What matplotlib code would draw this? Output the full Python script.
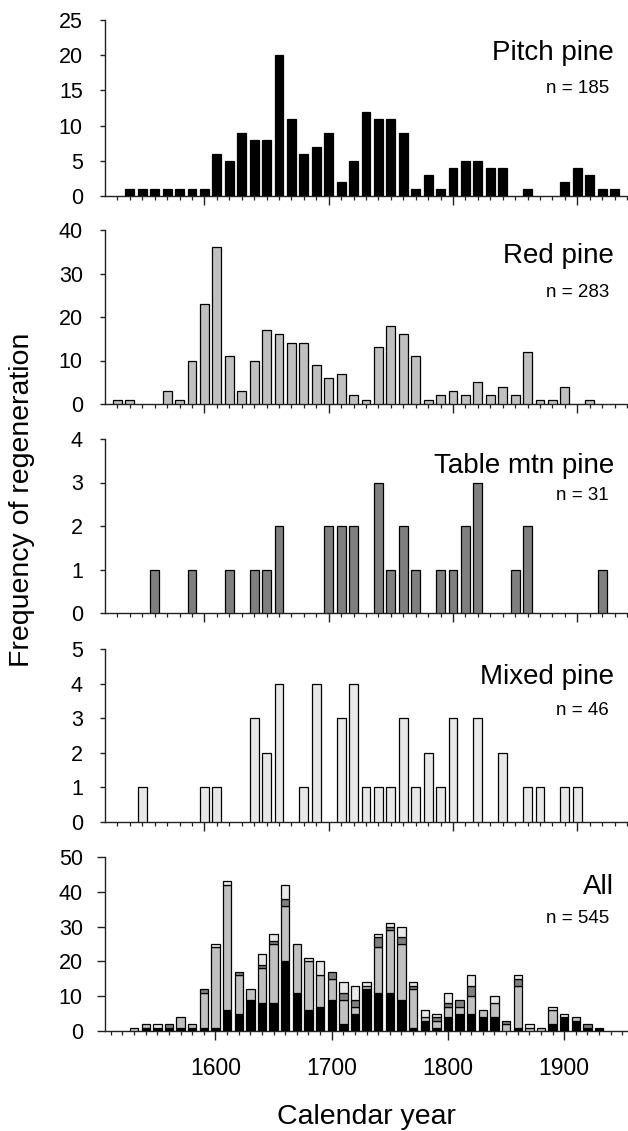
import numpy as np
import matplotlib
matplotlib.use("Agg")
import matplotlib.pyplot as plt
from matplotlib.ticker import MultipleLocator, FixedLocator

plt.rcParams['font.family'] = ['Liberation Sans', 'DejaVu Sans']

years = list(range(1530, 1940, 10))
pitch = [0, 1, 1, 1, 1, 1, 1, 1, 6, 5, 9, 8, 8, 20, 11, 6, 7, 9, 2, 5, 12, 11, 11, 9, 1, 3, 1, 4, 5, 5, 4, 4, 0, 1, 0, 0, 2, 4, 3, 1, 1]
red = [1, 1, 0, 0, 3, 1, 10, 23, 36, 11, 3, 10, 17, 16, 14, 14, 9, 6, 7, 2, 1, 13, 18, 16, 11, 1, 2, 3, 2, 5, 2, 4, 2, 12, 1, 1, 4, 0, 1, 0, 0]
table_mtn = [0, 0, 0, 1, 0, 0, 1, 0, 0, 1, 0, 1, 1, 2, 0, 0, 0, 2, 2, 2, 0, 3, 1, 2, 1, 0, 1, 1, 2, 3, 0, 0, 1, 2, 0, 0, 0, 0, 0, 1, 0]
mixed = [0, 0, 1, 0, 0, 0, 0, 1, 1, 0, 0, 3, 2, 4, 0, 1, 4, 0, 3, 4, 1, 1, 1, 3, 1, 2, 1, 3, 0, 3, 0, 2, 0, 1, 1, 0, 1, 1, 0, 0, 0]

titles = ["Pitch pine", "Red pine", "Table mtn pine", "Mixed pine", "All"]
n_labels = ["n = 185", "n = 283", "n = 31", "n = 46", "n = 545"]
colors = ["#000000", "#c0c0c0", "#7f7f7f", "#e8e8e8"]
ymax = [25, 40, 4, 5, 50]
ystep = [5, 10, 1, 1, 10]
major_years = [1600, 1700, 1800, 1900]

W, H = 628, 1131
fig = plt.figure(figsize=(W / 100, H / 100), dpi=100)

# panel pixel boxes (top, bottom)
boxes = [(20, 196), (230, 404), (439, 613), (649, 822), (857, 1031)]
left_px, right_px = 105, 627
title_base = [60, 263, 473, 684, 894]
n_base = [93, 297, 500, 715, 923]

yrs = np.array(years)
series = [np.array(pitch), np.array(red), np.array(table_mtn), np.array(mixed)]
width = 7.2

axes = []
for i in range(5):
    top, bot = boxes[i]
    ax = fig.add_axes([left_px / W, 1 - bot / H, (right_px - left_px) / W, (bot - top) / H])
    axes.append(ax)
    if i < 4:
        v = series[i]
        m = v > 0
        ax.bar(yrs[m], v[m], width=width, color=colors[i], edgecolor="black", linewidth=0.9, zorder=3)
        ax.set_xlim(1520, 1940)
        minor = list(range(1530, 1941, 10))
    else:
        base = np.zeros(len(years))
        for s, c in zip(series, colors):
            m = s > 0
            ax.bar(yrs[m], s[m], bottom=base[m], width=width, color=c, edgecolor="black", linewidth=0.9, zorder=3)
            base = base + s
        ax.set_xlim(1505, 1954)
        minor = list(range(1510, 1951, 10))
    ax.set_ylim(0, ymax[i])
    ax.yaxis.set_major_locator(MultipleLocator(ystep[i]))
    ax.xaxis.set_major_locator(FixedLocator(major_years))
    ax.xaxis.set_minor_locator(FixedLocator([m for m in minor if m not in major_years]))
    for sp in ["top", "right"]:
        ax.spines[sp].set_visible(False)
    for sp in ["left", "bottom"]:
        ax.spines[sp].set_linewidth(1.0)
        ax.spines[sp].set_color("#222222")
    ylen = 6 if i == 4 else 3.3
    ax.tick_params(axis="y", direction="out", length=ylen, width=1.0, color="#222222",
                   labelsize=15.5, pad=(16.0 - ylen))
    ax.tick_params(axis="x", which="major", direction="out", length=6.5, width=1.0, color="#222222",
                   labelsize=16.5, pad=12)
    ax.tick_params(axis="x", which="minor", direction="out", length=3, width=0.9, color="#222222")
    if i < 4:
        ax.tick_params(axis="x", which="major", labelbottom=False)
    ax.text(614 / W, 1 - title_base[i] / H, titles[i], transform=fig.transFigure,
            ha="right", va="baseline", fontsize=20)
    ax.text(609 / W, 1 - n_base[i] / H, n_labels[i], transform=fig.transFigure,
            ha="right", va="baseline", fontsize=13.5)

fig.text(22 / W, 1 - 500 / H, "Frequency of regeneration", rotation=90,
         ha="center", va="center", fontsize=20.5)
fig.text(366 / W, 1 - 1117 / H, "Calendar year", ha="center", va="center", fontsize=20.5)

fig.savefig("out.png", dpi=100)
